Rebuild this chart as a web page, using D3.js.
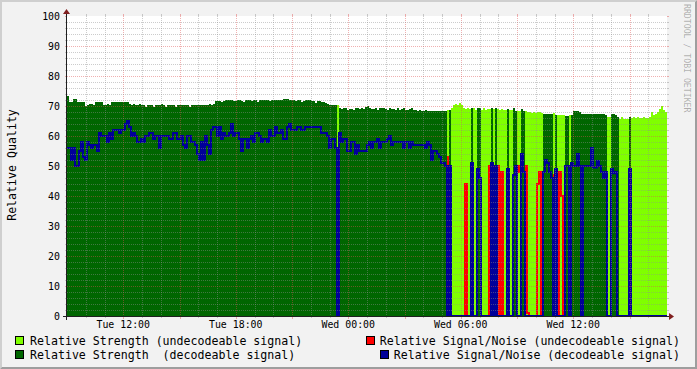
<!DOCTYPE html>
<html>
<head>
<meta charset="utf-8">
<script src="https://cdn.jsdelivr.net/npm/d3@7"></script>
<style>
  body { margin: 0; background: #f2f2f2; }
  svg { display: block; font-family: "DejaVu Sans Mono", monospace; }
  text { white-space: pre; }
</style>
</head>
<body>
<script>
// time axis: Tue 09:00 -> Wed 17:00, one sample per 384 s
const startTime = new Date(2024, 0, 2, 9, 0, 0);
const stepSec = 384;

// relative strength (%)
const strength = [
  73.3,71.2,71.2,72.3,72.3,71.2,71.2,71.2,71.2,70,
  70.3,70.7,70.7,70.3,71.2,71.2,71.2,71.2,70.3,70.3,
  70.7,70.3,71.2,71.2,71.2,71.2,71.2,71.2,71.2,71.2,
  71.2,70.7,70.3,70.7,70.3,70.3,70.7,70.3,70.3,69.7,
  70.3,70.3,70.3,69.7,70.3,70.3,70.3,70.7,70.3,69.7,
  70.3,70.3,70.3,70.3,69.7,70.3,70.3,70.3,70.3,70.3,
  70.3,69.7,70.3,70.3,70.3,70.3,70.3,70.3,70.3,70.3,
  70.3,70.7,70.3,70.7,71.7,71.7,71.7,71.3,71.7,72,
  72,72,72,71.7,71.7,72,72,71.7,71.3,72,
  72,72,71.7,72,72,71.3,72,72,72,72,
  72,71.7,72,72,72,72,72,72,72.3,72.3,
  72.3,72,72,72,71.7,72,72,71.3,71.7,72,
  72,72,71.7,71.7,71,71.7,71.7,71.3,71.3,71,
  70.7,70.3,70.3,70.3,70.3,70.3,69.3,69,69.3,69.3,
  68.7,69,69,68.7,69.3,69.3,69,69.3,69,69.7,
  70,69.3,69,69,69.3,68.7,69.3,69.3,69.3,69,
  68.7,69.3,69,69,68.7,69.3,68.7,69,69.3,68.7,
  68.7,69,69.3,68.7,68.7,68.3,68.7,68.3,68.3,68.7,
  68.3,68.3,68.3,68.3,68.3,68.3,68.3,68.3,68.3,68.3,
  68.7,68.7,69.3,70.3,70.7,70.3,70.9,70.3,69.3,69,
  69.3,69,69.3,69.3,68.7,69.3,69.3,68.7,69.3,68.7,
  69,69,69.3,69,69.3,69,68.7,69,68.7,68.7,
  69,68.7,68.7,69.3,68.3,68.3,68.3,69,68.5,68.3,
  68,68,67.7,68,67.7,68,68,67.7,67.3,67.3,
  67.3,67.3,67.3,67.7,67,67,67,67,67,66.7,
  66.7,67,67,68.3,68.3,68.3,68,67.3,67.3,67.3,
  67.3,67.3,67.3,67.3,67.3,67.3,67.3,67.3,67.3,67,
  66.3,66.3,67.3,67.3,67,66.3,65.7,66.3,65.7,65.7,
  65.7,66.3,66,66.3,66,66.3,66,66,66.3,66,
  66,66.3,68,67,67.3,68,69,70,68.7,68
];

// relative signal/noise (%)
const snr = [
  56,56,52,56,50,50,55,58,53,52,
  58,57,56,57,57,55,61,60,60,60,
  58,61,59,62,62,62,61,62,62,64,
  65,63,60,61,60,58,58,59,58,60,
  60,61,61,59,60,60,56,60,60,60,
  60,59,59,61,61,59,59,60,57,56,
  60,60,58,58,57,54,52,58,52,60,
  57,54,62,63,63,60,63,59,61,60,
  60,61,64,60,61,61,59,55,59,59,
  56,59,60,58,61,61,60,58,59,59,
  58,62,60,60,63,61,61,62,59,59,
  63,64,62,62,62,63,63,62,62,63,
  63,63,63,63,63,63,63,61,61,61,
  60,56,59,59,56,0,61,58,59,59,
  55,55,58,58,54,57,55,55,55,55,
  57,58,56,58,58,59,56,58,58,58,
  59,60,57,58,58,58,58,58,56,58,
  58,56,58,57,57,57,57,57,57,56,
  58,57,52,55,55,54,53,51,51,50,
  53,50,0,0,0,0,0,0,0,44,
  0,0,51,0,0,49,46,0,0,0,
  0,50,51,0,50,50,0,48,0,0,
  49,0,0,47,50,50,48,54,48,50,
  1,0,0,0,0,44,48,0,48,52,
  51,48,46,47,49,0,48,40,0,50,
  50,50,51,50,50,54,50,0,50,50,
  50,50,56,49.5,49.5,51.7,50,48,46,48,
  0,0,49,47.6,48,0,0,0,0,0,
  0,49,0,0,0,0,0,0,0,0,
  0,0,0,0,0,0,0,0,0,0
];

// 1 = decodeable signal, 0 = undecodeable
const decodeable = [
  1,1,1,1,1,1,1,1,1,1, 1,1,1,1,1,1,1,1,1,1,
  1,1,1,1,1,1,1,1,1,1, 1,1,1,1,1,1,1,1,1,1,
  1,1,1,1,1,1,1,1,1,1, 1,1,1,1,1,1,1,1,1,1,
  1,1,1,1,1,1,1,1,1,1, 1,1,1,1,1,1,1,1,1,1,
  1,1,1,1,1,1,1,1,1,1, 1,1,1,1,1,1,1,1,1,1,
  1,1,1,1,1,1,1,1,1,1, 1,1,1,1,1,1,1,1,1,1,
  1,1,1,1,1,1,1,1,1,1,
  1,1,1,1,1,0,1,1,1,1,
  1,1,1,1,1,1,1,1,1,1, 1,1,1,1,1,1,1,1,1,1,
  1,1,1,1,1,1,1,1,1,1, 1,1,1,1,1,1,1,1,1,1,
  1,1,1,1,1,1,1,1,1,1,
  0,1,0,0,0,0,0,0,0,0,
  0,0,1,0,0,1,1,0,0,0,
  0,0,1,0,1,0,0,0,0,0,
  1,0,0,1,1,0,0,1,1,0,
  0,0,0,0,0,0,0,0,1,1,
  1,1,1,0,1,0,0,0,0,1,
  1,0,1,1,1,1,1,1,1,1,
  1,1,1,1,1,1,1,1,1,1,
  0,0,1,1,1,1,0,0,0,0,
  0,1,0,0,0,0,0,0,0,0,
  0,0,0,0,0,0,0,0,0,0
];

const yTicks = [0, 10, 20, 30, 40, 50, 60, 70, 80, 90, 100];
const legendLeft = ["Relative Strength (undecodeable signal)", "Relative Strength  (decodeable signal)"];
const legendRight = ["Relative Signal/Noise (undecodeable signal)", "Relative Signal/Noise (decodeable signal)"];

const W = 697, H = 369;
const plotLeft = 67, plotTop = 16, plotW = 600, plotH = 300;
const col = {
  light: '#80ff00', dark: '#006600', red: '#ff0000', blue: '#000099',
  grid: 'rgba(143,143,143,0.45)', mgrid: 'rgba(222,79,79,0.45)',
  axis: '#1f1f1f', arrow: '#801f1f'
};

const n = strength.length;
const times = d3.range(n + 1).map(i => new Date(+startTime + i * stepSec * 1000));
const x = d3.scaleTime().domain([times[0], times[n]]).range([plotLeft, plotLeft + plotW]);
const y = d3.scaleLinear().domain([0, 100]).range([plotTop + plotH, plotTop]);

const svg = d3.select('body').append('svg').attr('width', W).attr('height', H);

// background + 3d frame
svg.append('rect').attr('width', W).attr('height', H).attr('fill', '#f2f2f2');
svg.append('polygon').attr('points', `0,${H} 2,${H-2} 2,2 ${W-2},2 ${W},0 0,0`).attr('fill', '#cfcfcf');
svg.append('polygon').attr('points', `2,${H-2} ${W-2},${H-2} ${W-2},2 ${W},0 ${W},${H} 0,${H}`).attr('fill', '#9e9e9e');
svg.append('rect').attr('x', plotLeft).attr('y', plotTop).attr('width', plotW).attr('height', plotH).attr('fill', '#fff');

svg.append('clipPath').attr('id', 'plot')
  .append('rect').attr('x', plotLeft).attr('y', plotTop).attr('width', plotW).attr('height', plotH);

const pts = strength.map((s, i) => ({t0: times[i], t1: times[i + 1], s: s, n: snr[i], d: decodeable[i]}));

const g = svg.append('g').attr('clip-path', 'url(#plot)');

function bars(data, fill) {
  g.append('g').selectAll('rect').data(data).join('rect')
    .attr('x', d => x(d.t0))
    .attr('width', d => x(d.t1) - x(d.t0))
    .attr('y', d => y(d.s))
    .attr('height', d => y(0) - y(d.s))
    .attr('fill', fill)
    .attr('shape-rendering', 'crispEdges');
}

const line = d3.line().x(d => x(d.t)).y(d => y(d.v)).curve(d3.curveStepAfter);
function stepLine(valFn, color) {
  const vals = pts.map(p => ({t: p.t0, v: valFn(p)}));
  vals.push({t: times[n], v: vals[n - 1].v});
  g.append('path').datum(vals)
    .attr('d', line)
    .attr('fill', 'none')
    .attr('stroke', color)
    .attr('stroke-width', 2);
}

// drawing order as in the legend
bars(pts.filter(p => !p.d), col.light);
stepLine(p => p.d ? 0 : p.n, col.red);
bars(pts.filter(p => p.d), col.dark);
stepLine(p => p.d ? p.n : 0, col.blue);

// grid
const grid = svg.append('g').attr('fill', 'none').attr('stroke-width', 1);
const hours = d3.timeHour.range(times[0], times[n]).filter(t => +t > +times[0]);
const minorY = d3.range(2, 100, 2).filter(v => v % 10 !== 0);
const y0 = plotTop + plotH, y1 = plotTop, x0 = plotLeft, x1 = plotLeft + plotW;

hours.forEach(t => {
  const px = Math.round(x(t)) + 0.5;
  const major = t.getHours() % 3 === 0;
  const c = major ? col.mgrid : col.grid;
  grid.append('line').attr('x1', px).attr('x2', px).attr('y1', y1 - 2).attr('y2', y1).attr('stroke', c);
  grid.append('line').attr('x1', px).attr('x2', px).attr('y1', y0).attr('y2', y0 + (major ? 3 : 2)).attr('stroke', c);
  grid.append('line').attr('x1', px).attr('x2', px).attr('y1', y1).attr('y2', y0)
    .attr('stroke', c).attr('stroke-dasharray', '1,1');
});

minorY.concat(yTicks).forEach(v => {
  const py = Math.round(y(v)) + 0.5;
  const major = v % 10 === 0;
  const c = major ? col.mgrid : col.grid;
  grid.append('line').attr('x1', x0 - 2).attr('x2', x0).attr('y1', py).attr('y2', py).attr('stroke', c);
  grid.append('line').attr('x1', x1).attr('x2', x1 + 2).attr('y1', py).attr('y2', py).attr('stroke', c);
  if (v > 0 && v < 100)
    grid.append('line').attr('x1', x0).attr('x2', x1).attr('y1', py).attr('y2', py)
      .attr('stroke', c).attr('stroke-dasharray', '1,1');
});

// axes + arrows
svg.append('line').attr('x1', x0 - 4).attr('x2', x1 + 4).attr('y1', y0 + 0.5).attr('y2', y0 + 0.5)
  .attr('stroke', col.axis);
svg.append('line').attr('x1', x0 - 0.5).attr('x2', x0 - 0.5).attr('y1', y0 + 4).attr('y2', y1 - 4)
  .attr('stroke', col.axis);
svg.append('polygon').attr('points', `${x1+2},${y0-3} ${x1+2},${y0+4} ${x1+7},${y0+0.5}`).attr('fill', col.arrow);
svg.append('polygon').attr('points', `${x0-4},${y1-2} ${x0+3},${y1-2} ${x0-0.5},${y1-7}`).attr('fill', col.arrow);

// tick labels
const fmt = d3.timeFormat('%a %H:%M');
svg.append('g').selectAll('text').data(hours.filter(t => t.getHours() % 6 === 0)).join('text')
  .attr('x', d => x(d)).attr('y', 328)
  .attr('text-anchor', 'middle').attr('font-size', '9.9px').attr('fill', '#000')
  .text(d => fmt(d));

svg.append('g').selectAll('text').data(yTicks).join('text')
  .attr('x', 60).attr('y', d => y(d)).attr('dy', '0.36em')
  .attr('text-anchor', 'end').attr('font-size', '9.9px').attr('fill', '#000')
  .text(d => d);

// vertical title
svg.append('text')
  .attr('transform', `translate(15.5,${plotTop + plotH / 2 - 1}) rotate(-90)`)
  .attr('text-anchor', 'middle').attr('font-size', '11.6px').attr('fill', '#000')
  .text('Relative Quality');

// watermark
svg.append('text')
  .attr('transform', 'translate(684,4) rotate(90)')
  .attr('font-size', '8.2px').attr('fill', 'rgba(0,0,0,0.3)')
  .text('RRDTOOL / TOBI OETIKER');

// legend
const legend = svg.append('g').attr('font-size', '11.6px');
const rowsY = [345, 359];
const leftColors = [col.light, col.dark];
const rightColors = [col.red, col.blue];

legendLeft.forEach((label, i) => {
  legend.append('rect').attr('x', 15.5).attr('y', rowsY[i] - 8.5).attr('width', 8).attr('height', 8)
    .attr('fill', leftColors[i]).attr('stroke', '#000');
  legend.append('text').attr('x', 30).attr('y', rowsY[i]).text(label);
});

legendRight.forEach((label, i) => {
  const t = legend.append('text').attr('x', 680).attr('y', rowsY[i]).attr('text-anchor', 'end').text(label);
  const len = t.node().getComputedTextLength();
  legend.append('rect').attr('x', Math.round(680 - len - 14) + 0.5).attr('y', rowsY[i] - 8.5)
    .attr('width', 8).attr('height', 8)
    .attr('fill', rightColors[i]).attr('stroke', '#000');
});
</script>
</body>
</html>
